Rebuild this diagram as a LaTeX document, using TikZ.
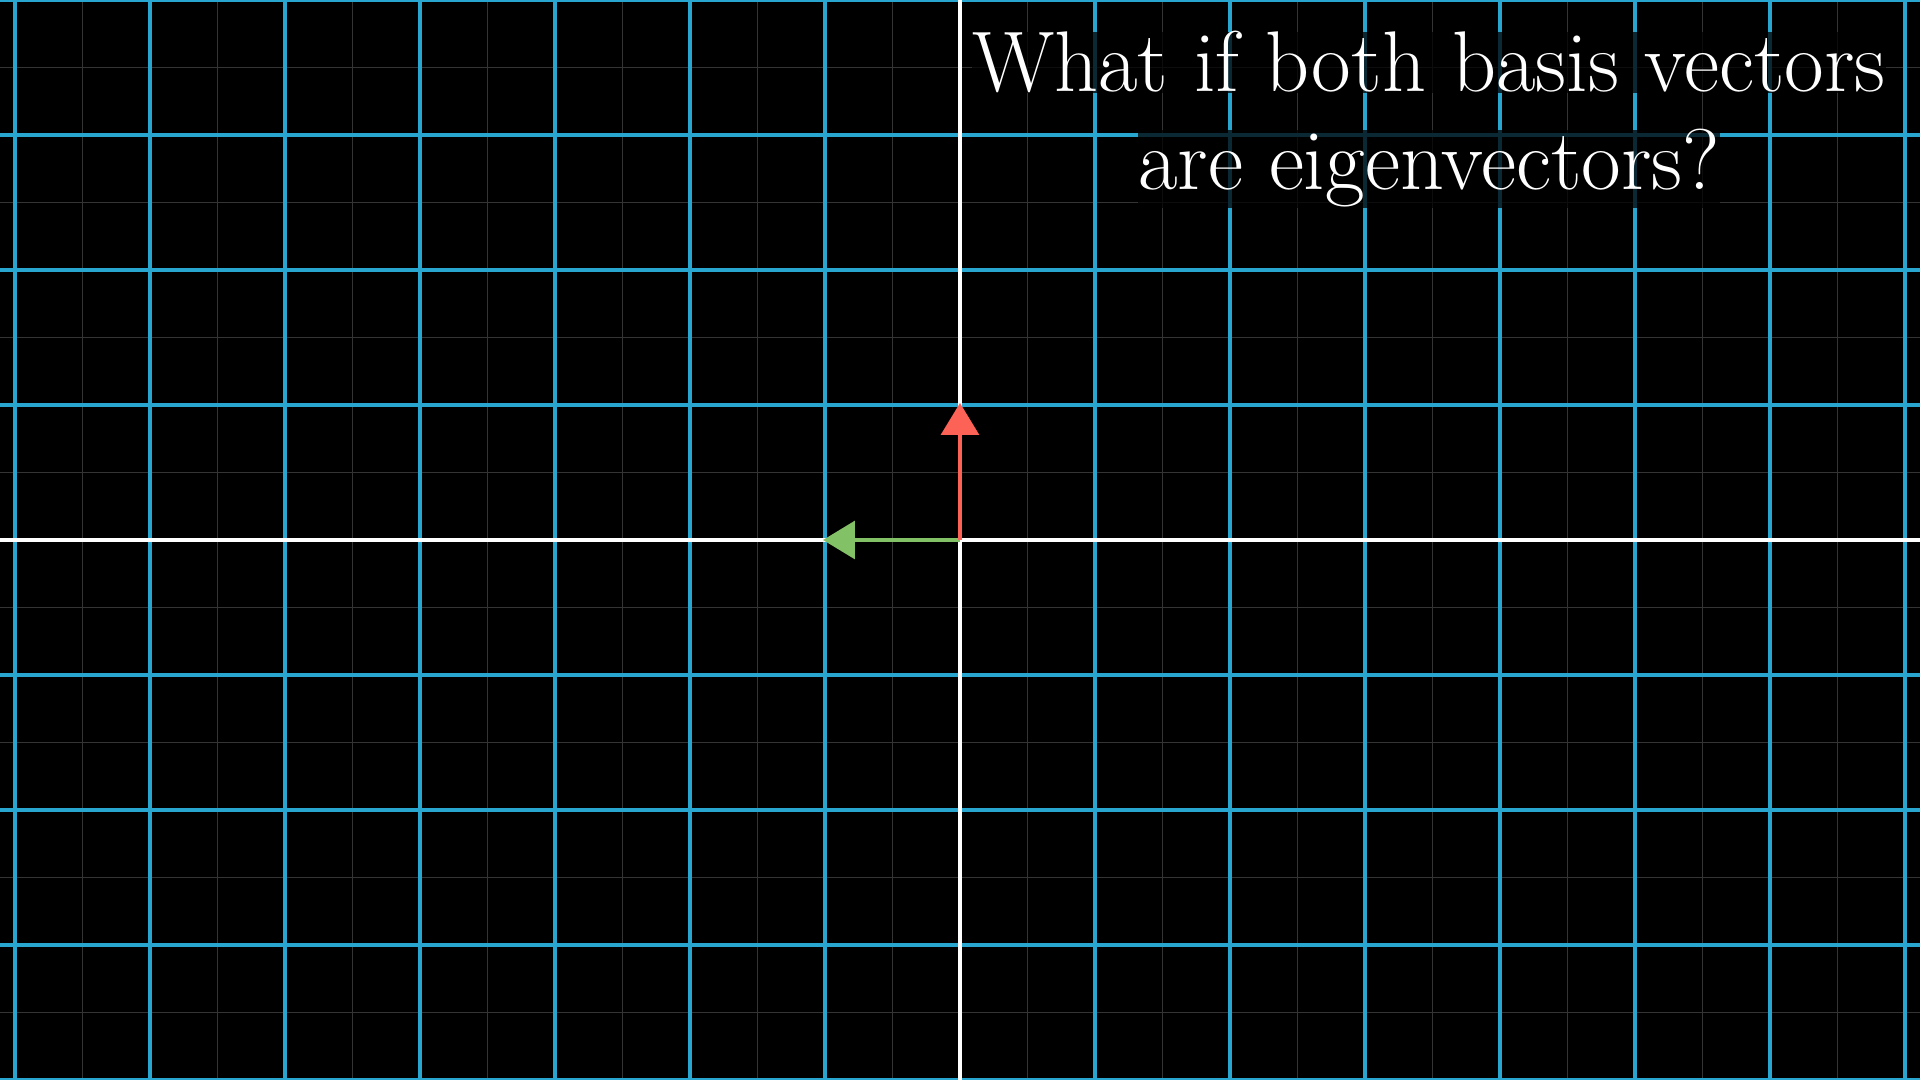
\documentclass[tikz,border=0pt]{standalone}
\usetikzlibrary{arrows.meta}
\definecolor{gridblue}{RGB}{40,166,208}
\definecolor{faint}{RGB}{52,52,52}
\definecolor{vred}{HTML}{FC6255}
\definecolor{vgreen}{HTML}{83C167}
\begin{document}
\begin{tikzpicture}[
  faintline/.style={draw=faint, line width=0.35pt},
  majorline/.style={draw=gridblue, line width=0.8pt},
  axisline/.style={draw=white, line width=0.85pt},
  basisvec/.style={line width=0.8pt, -{Triangle[length=0.237cm,width=0.28cm]}},
  caption/.style={text=white, fill=black, fill opacity=0.75, text opacity=1, inner sep=0pt, anchor=base, font=\fontsize{18.15}{22}\selectfont}
]
\useasboundingbox (-7.1111,-4) rectangle (7.1111,4);
\fill[black] (-7.1111,-4) rectangle (7.1111,4);
\foreach \x in {-7.5,-6.5,...,7.5} \draw[faintline] (\x,-4.1) -- (\x,4.1);
\foreach \y in {-3.5,-2.5,...,3.5} \draw[faintline] (-7.2,\y) -- (7.2,\y);
\foreach \x in {-7,...,7} \draw[majorline] (\x,-4.1) -- (\x,4.1);
\foreach \y in {-4,...,4} \draw[majorline] (-7.2,\y) -- (7.2,\y);
\draw[axisline] (-7.2,0) -- (7.2,0);
\draw[axisline] (0,-4.1) -- (0,4.1);
\coordinate (O) at (0,0);
\coordinate (ihat) at (-1.015,0);
\coordinate (jhat) at (0,1.015);
\draw[basisvec, vgreen] (O) -- (ihat);
\draw[basisvec, vred] (O) -- (jhat);
\node[caption] (line1) at (3.474,3.3185) {What if both basis vectors};
\node[caption] (line2) at (3.474,2.5926) {are eigenvectors?};
\end{tikzpicture}
\end{document}
